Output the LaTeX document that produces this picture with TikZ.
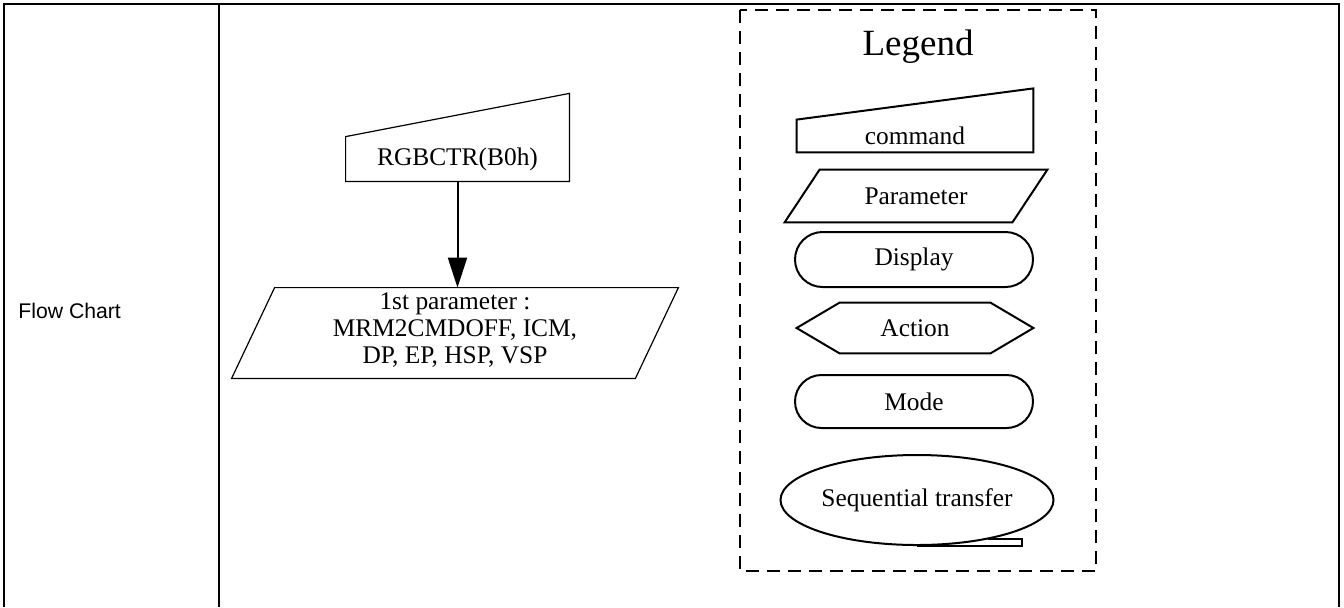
\documentclass[tikz,border=0pt]{standalone}
\usepackage{fontspec}
\setmainfont{Liberation Serif}
\newfontfamily\arialfont{Liberation Sans}
\usetikzlibrary{arrows.meta,shapes.geometric,shapes.misc}

\tikzset{
  txt/.style={font=\fontsize{12.7}{13.5}\selectfont, inner sep=0pt, align=center},
  boxline/.style={line width=0.6pt},
  legline/.style={line width=1pt},
  tabline/.style={line width=0.9pt},
}

\begin{document}
\begin{tikzpicture}[x=0.5pt, y=-0.5pt]
        \useasboundingbox (0,0) rectangle (1344,607);
        % Table
        \draw[tabline] (4,607) -- (4,4) -- (1339,4) -- (1339,607);
        \draw[tabline] (219,4) -- (219,607);
        \node[font=\arialfont\fontsize{10.6}{12}\selectfont, anchor=base west, inner sep=0pt] (flow) at (18,318) {Flow Chart};

        % Command
        \node[txt, minimum width=111.5pt, minimum height=22pt] (rgb) at (457.5,159) {RGBCTR(B0h)};
        \draw[boxline] (rgb.north west) -- (rgb.south west) -- (rgb.south east) -- ++(0,-88) -- cycle;

        % Parameter
        \node[minimum width=201.5pt, minimum height=45pt, inner sep=0pt] (prm) at (455,333) {};
        \node[txt] (prmtxt) at (455,330) {1st parameter :\\MRM2CMDOFF, ICM,\\DP, EP, HSP, VSP};
        \draw[boxline] ([xshift=10.75pt]prm.north west) -- ([xshift=10.75pt]prm.north east)
          -- ([xshift=-10.75pt]prm.south east) -- ([xshift=-10.75pt]prm.south west) -- cycle;
        \draw[line width=1pt, -{Triangle[length=15pt,width=9.5pt]}] (rgb.south) -- (rgb.south |- prm.north);

        % Legend
        \draw[line width=1.4pt, dash pattern=on 6.5pt off 4pt] (740,10) rectangle (1096,571);
        \node[font=\fontsize{18.5}{20}\selectfont, anchor=base, inner sep=0pt] (leg) at (918,55) {Legend};

        \node[txt, minimum width=118pt, minimum height=16pt] (lcmd) at (915,136) {command};
        \draw[legline] (lcmd.north west) -- (lcmd.south west) -- (lcmd.south east) -- ++(0,-64) -- cycle;

        \node[txt, minimum width=113.5pt, minimum height=26pt] (lprm) at (916,196) {Parameter};
        \draw[legline] ([xshift=8.75pt]lprm.north west) -- ([xshift=8.75pt]lprm.north east)
          -- ([xshift=-8.75pt]lprm.south east) -- ([xshift=-8.75pt]lprm.south west) -- cycle;

        \node[txt, draw, legline, rounded rectangle, minimum width=119pt, minimum height=27.5pt] (ldisp) at (914,259.5) {Display};

        \node[txt, minimum width=118pt, minimum height=25pt] (lact) at (915,328) {Action};
        \draw[legline] (lact.west) -- ([xshift=21.5pt]lact.north west) -- ([xshift=-21.5pt]lact.north east)
          -- (lact.east) -- ([xshift=-21.5pt]lact.south east) -- ([xshift=21.5pt]lact.south west) -- cycle;

        \node[txt, draw, legline, rounded rectangle, minimum width=119pt, minimum height=26.5pt] (lmode) at (914,401.5) {Mode};

        \node[txt, draw, legline, ellipse, minimum width=136.5pt, minimum height=45pt] (lseq) at (917,500) {Sequential transfer};
        \draw[legline] (lseq.south) -- ++(105,0) -- ++(0,-7) -- ++(-34,0);
\end{tikzpicture}
\end{document}
